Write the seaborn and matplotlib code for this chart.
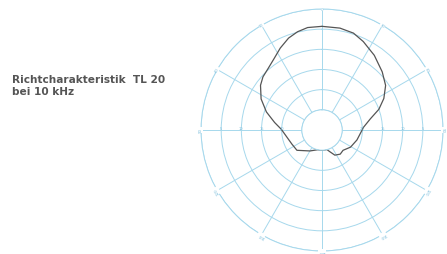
import numpy as np
import pandas as pd
import matplotlib
matplotlib.use("Agg")
import matplotlib.pyplot as plt
import seaborn as sns

# Polar response, angle in degrees (clockwise from front), level in dB
angles_deg = [0, 10, 18, 25, 35, 46, 55, 63, 70, 77, 86, 106, 121, 134, 143,
              153, 160, 166, 180, 192, 210, 231, 245, 271, 279, 288, 297, 306,
              312, 319, 326, 333, 340, 346, 352, 360]
level_db = [-4.3, -4.35, -4.75, -5.8, -7.4, -9.25, -10.75, -12.8, -15.0, -17.7,
            -19.65, -21.0, -21.75, -22.75, -22.5, -23.0, -24.25, -25.0, -25.0,
            -25.0, -24.0, -22.0, -21.75, -19.9, -18.1, -15.5, -13.05, -11.15,
            -10.3, -9.7, -8.7, -7.2, -5.75, -4.9, -4.35, -4.3]

ring_db = [-25, -20, -15, -10, -5, 0]
spoke_deg = list(range(0, 360, 30))
spoke_labels = ["0", "30", "60", "90", "120", "150", "180", "150", "120", "90", "60", "30"]
ring_labels = ["25", "20", "15", "10", "5", "0"]

title = "Richtcharakteristik  TL 20\nbei 10 kHz"

GRID = "#a6d8ec"
CURVE = "#555555"

df = pd.DataFrame({"theta": np.deg2rad(angles_deg), "level": level_db})

sns.set_style("white")
plt.rcParams["font.family"] = ["DejaVu Sans"]

fig = plt.figure(figsize=(4.47, 2.55), dpi=100)
ax = fig.add_axes([0.4497, 0.0118, 0.5414, 0.949], projection="polar")
ax.set_theta_zero_location("N")
ax.set_theta_direction(-1)
ax.set_rorigin(-30)
ax.set_ylim(-25, 0)

ax.set_xticks(np.deg2rad(spoke_deg))
ax.set_xticklabels([])
ax.set_yticks(ring_db)
ax.set_yticklabels([])
ax.grid(True, color=GRID, linewidth=0.7)
for sp in ax.spines.values():
    sp.set_color(GRID)
    sp.set_linewidth(0.7)
ax.tick_params(length=0)

sns.lineplot(data=df, x="theta", y="level", sort=False, color=CURVE,
             linewidth=0.9, ax=ax, estimator=None)
ax.set_xlabel("")
ax.set_ylabel("")

# small labels on the outer ring and along the horizontal axis
for a, lab in zip(spoke_deg, spoke_labels):
    ax.text(np.deg2rad(a), 0, lab, fontsize=2.8, color="#7fbfdc",
            ha="center", va="center", rotation=-a,
            bbox=dict(boxstyle="square,pad=0.05", fc="white", ec="none"))
for r, lab in zip(ring_db[1:-1], ring_labels[1:-1]):
    for a in (90, 270):
        ax.text(np.deg2rad(a), r, lab, fontsize=2.6, color="#7fbfdc",
                ha="center", va="bottom")

fig.text(12 / 447, 1 - 75 / 255, title, fontsize=7.6, fontweight="semibold",
         color="#555555", ha="left", va="top", linespacing=1.3)

fig.savefig("out.png", dpi=100)
